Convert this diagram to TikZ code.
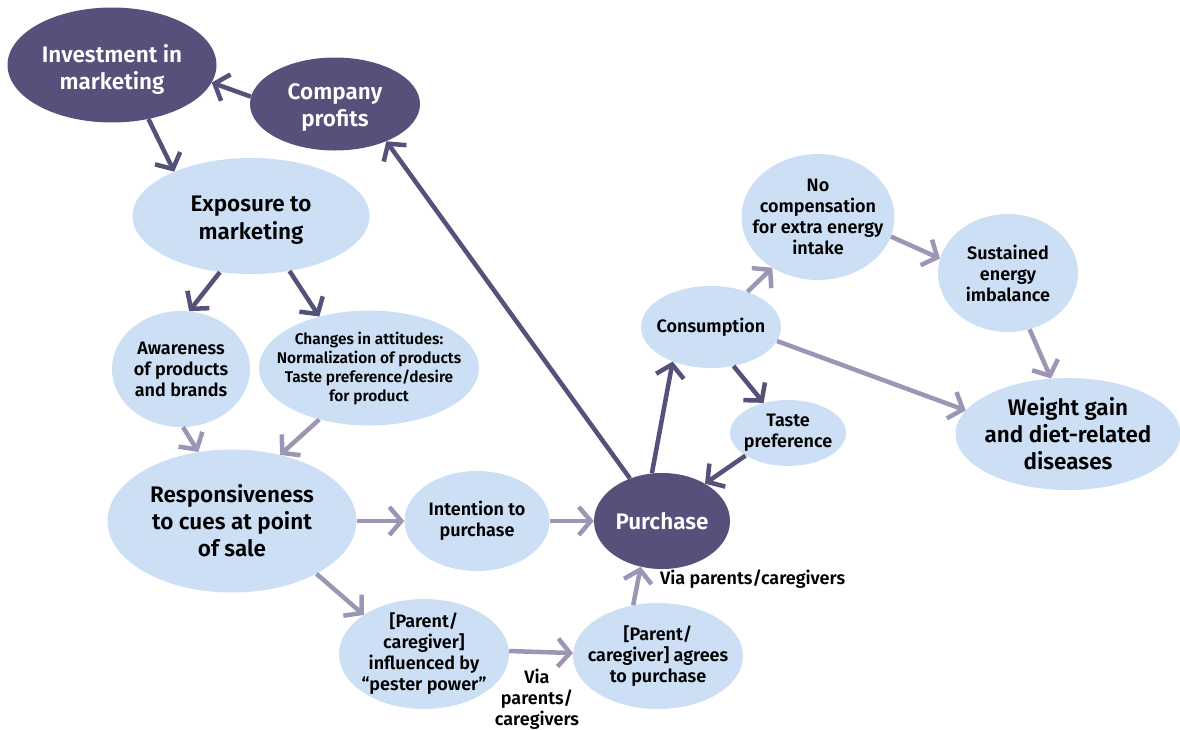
\documentclass[tikz,border=0pt]{standalone}
\usepackage{fontspec}
\setmainfont{Fira Sans}[BoldFont={Fira Sans SemiBold}]
\usetikzlibrary{shapes.geometric,arrows.meta}
\definecolor{darkp}{HTML}{56517A}
\definecolor{lightb}{HTML}{CCDFF4}
\definecolor{lightarr}{HTML}{9A96B4}
\tikzset{
  dnode/.style={ellipse,fill=darkp,inner sep=0pt},
  lnode/.style={ellipse,fill=lightb,inner sep=0pt},
  dtxt/.style={label={[text=white,align=center,inner sep=0pt,font=\bfseries\fontsize{22.5}{27}\selectfont]center:{#1}}},
  dtxtlow/.style={label={[text=white,align=center,inner sep=0pt,yshift=-4pt,font=\bfseries\fontsize{22.5}{27}\selectfont]center:{#1}}},
  bigtxt/.style={label={[text=black,align=center,inner sep=0pt,font=\bfseries\fontsize{22.5}{27}\selectfont]center:{#1}}},
  bigtxtlow/.style={label={[text=black,align=center,inner sep=0pt,yshift=-4pt,font=\bfseries\fontsize{22.5}{28}\selectfont]center:{#1}}},
  smalltxt/.style={label={[text=black,align=center,inner sep=0pt,font=\bfseries\fontsize{18}{21}\selectfont]center:{#1}}},
  tinytxt/.style={label={[text=black,align=center,inner sep=0pt,font=\bfseries\fontsize{15.5}{19}\selectfont]center:{#1}}},
  darr/.style={draw=darkp,line width=4.5pt,-{Straight Barb[length=12pt,width=28pt]}},
  larr/.style={draw=lightarr,line width=4.5pt,-{Straight Barb[length=12pt,width=28pt]}},
  lbl/.style={align=center,font=\bfseries\fontsize{18}{21}\selectfont,inner sep=0pt}
}
\begin{document}
\begin{tikzpicture}[x=1pt,y=-1pt]
\useasboundingbox (0,0) rectangle (1180,729);
% nodes
\node[dnode,minimum width=209pt,minimum height=115pt,dtxtlow={Investment in\\marketing}] (inv) at (112,65) {};
\node[dnode,minimum width=170pt,minimum height=93pt,dtxtlow={Company\\profits}] (cp) at (335,104) {};
\node[lnode,minimum width=237pt,minimum height=116pt,bigtxtlow={Exposure to\\marketing}] (exp) at (251,216) {};
\node[lnode,minimum width=138pt,minimum height=116pt,smalltxt={Awareness\\of products\\and brands}] (aw) at (181,369) {};
\node[lnode,minimum width=220pt,minimum height=115pt,tinytxt={Changes in attitudes:\\Normalization of products\\Taste preference/desire\\for product}] (ch) at (369,368) {};
\node[lnode,minimum width=249pt,minimum height=143pt,bigtxt={Responsiveness\\to cues at point\\of sale}] (resp) at (232,521) {};
\node[lnode,minimum width=145pt,minimum height=100pt,smalltxt={Intention to\\purchase}] (int) at (477,521) {};
\node[dnode,minimum width=136pt,minimum height=96pt,dtxt={Purchase}] (pur) at (662,521) {};
\node[lnode,minimum width=170pt,minimum height=110pt,smalltxt={[Parent/\\caregiver]\\influenced by\\``pester power''}] (pest) at (424,654) {};
\node[lnode,minimum width=170pt,minimum height=106pt,smalltxt={[Parent/\\caregiver] agrees\\to purchase}] (agr) at (658,656) {};
\node[lnode,minimum width=140pt,minimum height=82pt,smalltxt={Consumption}] (cons) at (711,327) {};
\node[lnode,minimum width=116pt,minimum height=66pt,smalltxt={Taste\\preference}] (taste) at (788,433) {};
\node[lnode,minimum width=153pt,minimum height=126pt,smalltxt={No\\compensation\\for extra energy\\intake}] (noc) at (818,217) {};
\node[lnode,minimum width=140pt,minimum height=118pt,smalltxt={Sustained\\energy\\imbalance}] (sus) at (1008,273) {};
\node[lnode,minimum width=225pt,minimum height=112pt,bigtxt={Weight gain\\and diet-related\\diseases}] (wg) at (1068,434) {};
% labels
\node[lbl,anchor=west] (via1) at (660,579) {Via parents/caregivers};
\node[lbl] (via2) at (537,699) {Via\\parents/\\caregivers};
% dark connectors
\draw[darr] (cp.175) -- (inv.-10);
\draw[darr] (inv.-56) -- (exp.150);
\draw[darr] (pur.127) -- (cp.-36);
\draw[darr] (exp.-119) -- (aw.82);
\draw[darr] (exp.-55) -- (ch.134);
\draw[darr] (pur.102) -- (cons.-138);
\draw[darr] (cons.-60) -- (taste.129);
\draw[darr] (taste.-152) -- (pur.41);
% light connectors
\draw[larr] (aw.-88) -- (resp.116);
\draw[larr] (ch.-134) -- (resp.54);
\draw[larr] (resp.0) -- (int.180);
\draw[larr] (int.0) -- (pur.180);
\draw[larr] (resp.-32) -- (pest.147);
\draw[larr] (pest.2) -- (agr.178);
\draw[larr] (agr.116) -- (pur.-115);
\draw[larr] (cons.44) -- (noc.-132);
\draw[larr] (noc.-15) -- (sus.168);
\draw[larr] (sus.-69) -- (wg.107);
\draw[larr] (cons.-12) -- (wg.167);
\end{tikzpicture}
\end{document}
